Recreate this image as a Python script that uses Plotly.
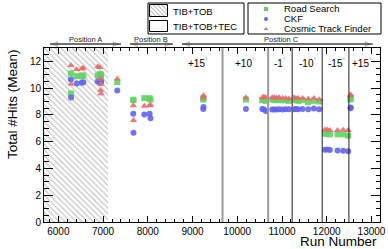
import plotly.graph_objects as go

# ---------------- data ----------------
runs = [6280, 6285, 6410, 6520, 6560, 6880, 6930, 6940, 6950, 6945, 6955,
        7318, 7676, 7680, 7922, 8040, 8060,
        9240, 9245, 10193, 10558, 10596, 10640, 10781, 10826, 10880, 10938,
        11014, 11081, 11155, 11267, 11311, 11363, 11461, 11586, 11713, 11831,
        11958, 12010, 12070, 12241, 12367, 12479,
        12530, 12535]
road_search = [11.1, 9.6, 10.9, 10.9, 10.95, 10.95, 11.05, 11.0, 10.85, 10.9, 11.0,
               10.45, 9.13, 9.1, 9.25, 9.25, 9.15,
               9.15, 9.25, 9.15, 9.1, 9.15, 9.05, 9.15, 9.1, 9.15, 9.1,
               9.1, 9.1, 9.05, 9.15, 9.1, 9.05, 9.1, 8.95, 9.05, 9.0,
               6.6, 6.6, 6.55, 6.55, 6.55, 6.45,
               9.15, 9.3]
ckf = [10.65, 9.3, 10.35, 10.4, 10.45, 10.5, 10.45, 10.4, 10.5, 10.45, 10.5,
       9.83, 8.08, 6.67, 8.04, 8.08, 7.76,
       8.45, 8.6, 8.45, 8.45, 8.4, 8.3, 8.4, 8.4, 8.4, 8.42,
       8.4, 8.42, 8.42, 8.43, 8.45, 8.42, 8.45, 8.42, 8.48, 8.42,
       5.4, 5.42, 5.38, 5.35, 5.32, 5.28,
       8.5, 8.55]
ctf = [11.7, 10.3, 11.4, 11.45, 11.5, 11.6, 11.55, 10.7, 10.3, 9.85, 9.6,
       10.7, 8.7, 7.6, 8.66, 8.7, 8.75,
       9.3, 9.45, 9.3, 9.3, 9.35, 9.3, 9.3, 9.3, 9.28, 9.3,
       9.25, 9.25, 9.2, 9.3, 9.25, 9.25, 9.25, 9.2, 9.25, 9.15,
       6.9, 6.9, 6.85, 6.85, 6.88, 6.85,
       9.45, 9.5]

x_ticks = [6000, 7000, 8000, 9000, 10000, 11000, 12000, 13000]
x_tick_labels = ["6000", "7000", "8000", "9000", "10000", "11000", "12000", "13000"]
y_ticks = [0, 2, 4, 6, 8, 10, 12]
y_tick_labels = ["0", "2", "4", "6", "8", "10", "12"]
x_range = [5680, 13190]
y_range = [0, 13]

tib_tob_end = 7110

field_change_runs = [9670, 10690, 11228, 11898, 12495]
field_line_colors = ["#9a9a9a", "#9a9a9a", "#666666", "#222222", "#222222"]
field_line_widths = [2, 2, 1.5, 1, 1]
field_labels = ["+15", "+10", "-1", "-10", "-15", "+15"]
field_label_runs = [9120, 10170, 10945, 11575, 12222, 12780]

position_names = ["Position A", "Position B", "Position C"]
position_start = [5815, 7602, 8763]
position_end = [7401, 8562, 13030]
position_label_runs = [6608, 8082, 10987]

legend_names = ["Road Search", "CKF", "Cosmic Track Finder"]
colors = ["#5fd35f", "#6464ee", "#e86a6a"]
symbols = ["square", "circle", "triangle-up"]

FONT = "Liberation Sans, Arial, sans-serif"

fig = go.Figure()

# hatched TIB+TOB region
fig.add_trace(go.Bar(
    x=[(x_range[0] + tib_tob_end) / 2], y=[y_range[1]], base=[0],
    width=[tib_tob_end - x_range[0]],
    marker=dict(color="white", line=dict(width=0),
                pattern=dict(shape="\\", fgcolor="#8a8a8a", bgcolor="white",
                             size=4, solidity=0.3)),
    showlegend=False, hoverinfo="skip"))

for name, vals, c, s in zip(legend_names, [road_search, ckf, ctf], colors, symbols):
    fig.add_trace(go.Scatter(
        x=runs, y=vals, mode="markers", name=name,
        marker=dict(color=c, symbol=s, size=6 if s != "triangle-up" else 6.5,
                    opacity=0.9, line=dict(width=0)),
        showlegend=False, cliponaxis=False))

# ---- legend boxes on an auxiliary pixel axis ----
fig.add_trace(go.Bar(
    x=[159], y=[12], base=[5], width=[18], xaxis="x2", yaxis="y2",
    marker=dict(color="white", line=dict(width=1, color="black"),
                pattern=dict(shape="\\", fgcolor="#555555", bgcolor="white",
                             size=3, solidity=0.3)),
    showlegend=False, hoverinfo="skip"))
fig.add_trace(go.Bar(
    x=[159], y=[11], base=[21], width=[18], xaxis="x2", yaxis="y2",
    marker=dict(color="white", line=dict(width=1, color="black")),
    showlegend=False, hoverinfo="skip"))
fig.add_trace(go.Scatter(
    x=[266, 266, 266], y=[9, 19, 29], xaxis="x2", yaxis="y2", mode="markers",
    marker=dict(color=colors, symbol=symbols, size=4, line=dict(width=0)),
    showlegend=False, hoverinfo="skip"))

shapes = [
    dict(type="rect", xref="x2", yref="y2", x0=148, x1=244, y0=3, y1=34,
         line=dict(color="black", width=1)),
    dict(type="rect", xref="x2", yref="y2", x0=248, x1=381, y0=3, y1=34,
         line=dict(color="black", width=1)),
]
for r, c, w in zip(field_change_runs, field_line_colors, field_line_widths):
    shapes.append(dict(type="line", xref="x", yref="y", x0=r, x1=r,
                       y0=y_range[0], y1=y_range[1], line=dict(color=c, width=w)))
for s, e in zip(position_start, position_end):
    shapes.append(dict(type="line", xref="x", yref="y2", x0=s, x1=e, y0=44, y1=44,
                       line=dict(color="#444444", width=1.5)))

annotations = []
for txt, y in zip(["TIB+TOB", "TIB+TOB+TEC"], [11, 26.5]):
    annotations.append(dict(xref="x2", yref="y2", x=171, y=y, text=txt, showarrow=False,
                            xanchor="left", yanchor="middle",
                            font=dict(family=FONT, size=9.5, color="black")))
for txt, y in zip(legend_names, [8.5, 18.5, 28.5]):
    annotations.append(dict(xref="x2", yref="y2", x=282, y=y, text=txt, showarrow=False,
                            xanchor="left", yanchor="middle",
                            font=dict(family=FONT, size=9.5, color="black")))
for name, s, e, xl in zip(position_names, position_start, position_end, position_label_runs):
    annotations.append(dict(xref="x", yref="y2", x=xl, y=39.5, text=name, showarrow=False,
                            xanchor="center", yanchor="middle",
                            font=dict(family=FONT, size=7.5, color="#222222")))
    annotations.append(dict(xref="x", yref="y2", x=s, y=44, text="◁", showarrow=False,
                            xanchor="left", yanchor="middle",
                            font=dict(family="DejaVu Sans", size=7, color="#333333")))
    annotations.append(dict(xref="x", yref="y2", x=e, y=44, text="▷", showarrow=False,
                            xanchor="right", yanchor="middle",
                            font=dict(family="DejaVu Sans", size=7, color="#333333")))
for lab, xl in zip(field_labels, field_label_runs):
    annotations.append(dict(xref="x", yref="y2", x=xl, y=63,
                            text=f"{lab}<span style='color:#999999'><sup>°</sup></span>",
                            showarrow=False, xanchor="center", yanchor="middle",
                            font=dict(family=FONT, size=10, color="black")))
annotations.append(dict(xref="paper", yref="y2", x=(12 - 40) / 344, y=47,
                        text="Total #Hits (Mean)", textangle=-90, showarrow=False,
                        xanchor="center", yanchor="top",
                        font=dict(family=FONT, size=13.5, color="black")))
annotations.append(dict(xref="x2", yref="paper", x=379, y=(222 - 241) / 220,
                        text="Run Number", showarrow=False,
                        xanchor="right", yanchor="middle",
                        font=dict(family=FONT, size=13.5, color="black")))

fig.update_layout(
    width=388, height=249,
    margin=dict(l=40, r=4, t=2, b=27, autoexpand=False),
    paper_bgcolor="white", plot_bgcolor="rgba(0,0,0,0)",
    showlegend=False, bargap=0,
    font=dict(family=FONT, size=10, color="black"),
    shapes=shapes, annotations=annotations,
    xaxis=dict(domain=[4 / 344, 340 / 344], anchor="y", range=x_range, automargin=False,
               tickvals=x_ticks, ticktext=x_tick_labels,
               ticks="inside", ticklen=6, tickcolor="black",
               showline=True, linecolor="black", linewidth=1, mirror="allticks",
               showgrid=False, zeroline=False,
               tickfont=dict(family=FONT, size=10, color="black"),
               minor=dict(dtick=200, tick0=0, ticks="inside", ticklen=3,
                          tickcolor="black", showgrid=False)),
    yaxis=dict(domain=[0, 174 / 220], anchor="x", range=y_range, automargin=False,
               tickvals=y_ticks, ticktext=y_tick_labels,
               ticks="inside", ticklen=9, tickcolor="black",
               showline=True, linecolor="black", linewidth=1, mirror="allticks",
               showgrid=False, zeroline=False,
               tickfont=dict(family=FONT, size=10, color="black"),
               minor=dict(dtick=0.5, tick0=0, ticks="inside", ticklen=4.5,
                          tickcolor="black", showgrid=False)),
    xaxis2=dict(domain=[0, 1], anchor="y2", range=[40, 384], visible=False,
                fixedrange=True, automargin=False),
    yaxis2=dict(domain=[0, 1], anchor="x2", range=[222, 2], visible=False,
                fixedrange=True, automargin=False),
)

fig.write_html("out.html", config={"displayModeBar": False},
               post_script="document.body.style.margin='0';document.body.style.padding='0';")
